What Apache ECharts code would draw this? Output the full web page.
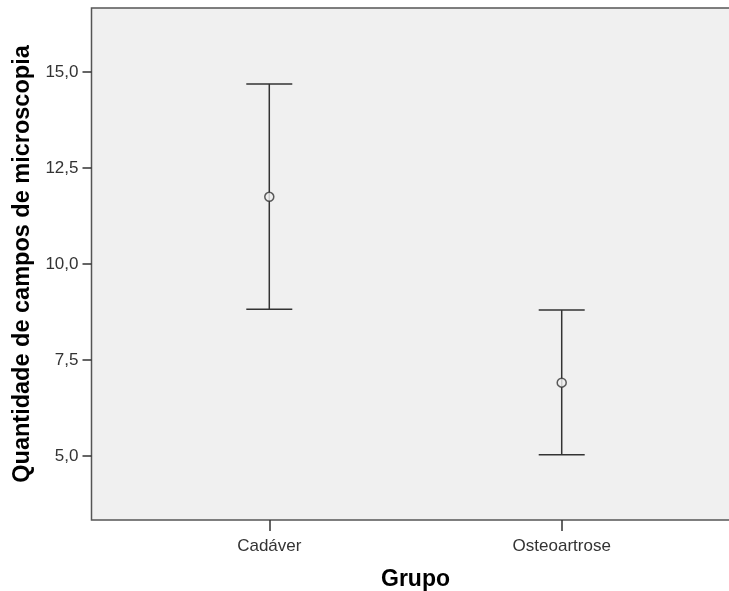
<!DOCTYPE html>
<html>
<head>
<meta charset="utf-8">
<script src="https://cdn.jsdelivr.net/npm/echarts@6/dist/echarts.min.js"></script>
<style>html,body{margin:0;padding:0;background:#fff}#c{width:729px;height:591px}</style>
</head>
<body>
<div id="c"></div>
<script>
// Data
var categories = ['Cadáver', 'Osteoartrose'];
var means = [11.75, 6.91];
var lower = [8.82, 5.03];
var upper = [14.69, 8.80];
var yTicks = [5, 7.5, 10, 12.5, 15];
var xTitle = 'Grupo';
var yTitle = 'Quantidade de campos de microscopia';

var catIdx = categories.map(function (c, i) { return i; });
var barData = catIdx.map(function (i) { return [i, lower[i], upper[i]]; });
var meanData = catIdx.map(function (i) { return [i, means[i]]; });

var chart = echarts.init(document.getElementById('c'), null, { renderer: 'canvas' });
var font = 'Liberation Sans, Arial, sans-serif';
chart.setOption({
  animation: false,
  grid: {
    left: 91.5, top: 8, width: 648, height: 512,
    containLabel: false, outerBoundsMode: 'none',
    show: true, backgroundColor: '#f0f0f0', borderColor: '#555', borderWidth: 1.5
  },
  xAxis: {
    type: 'value', min: -0.608, max: 1.608,
    name: xTitle, nameLocation: 'middle', nameGap: 48,
    nameTextStyle: { fontFamily: font, fontSize: 23, fontWeight: 'bold', color: '#000' },
    axisLine: { show: false, onZero: false },
    splitLine: { show: false },
    axisTick: { show: true, customValues: catIdx, length: 11, lineStyle: { color: '#333', width: 1.5 } },
    axisLabel: {
      customValues: catIdx, margin: 18, fontFamily: font, fontSize: 17, color: '#333',
      formatter: function (v) { return categories[Math.round(v)] || ''; }
    }
  },
  yAxis: {
    type: 'value', min: 3.333, max: 16.667,
    name: yTitle, nameLocation: 'middle', nameGap: 56, nameRotate: 90,
    nameTextStyle: { fontFamily: font, fontSize: 23.5, fontWeight: 'bold', color: '#000' },
    axisLine: { show: false, onZero: false },
    splitLine: { show: false },
    axisTick: { show: true, customValues: yTicks, length: 9, lineStyle: { color: '#333', width: 1.5 } },
    axisLabel: {
      customValues: yTicks, margin: 13, fontFamily: font, fontSize: 17, color: '#333',
      formatter: function (v) { return v.toFixed(1).replace('.', ','); }
    }
  },
  series: [
    {
      type: 'custom',
      data: barData,
      renderItem: function (params, api) {
        var x = api.value(0);
        var lo = api.coord([x, api.value(1)]);
        var hi = api.coord([x, api.value(2)]);
        var hw = 23;
        var style = { stroke: '#333', lineWidth: 1.5 };
        return {
          type: 'group',
          children: [
            { type: 'line', shape: { x1: lo[0], y1: lo[1], x2: hi[0], y2: hi[1] }, style: style },
            { type: 'line', shape: { x1: lo[0] - hw, y1: lo[1], x2: lo[0] + hw, y2: lo[1] }, style: style },
            { type: 'line', shape: { x1: hi[0] - hw, y1: hi[1], x2: hi[0] + hw, y2: hi[1] }, style: style }
          ]
        };
      }
    },
    {
      type: 'scatter',
      data: meanData,
      symbol: 'circle',
      symbolSize: 9,
      itemStyle: { color: '#f0f0f0', borderColor: '#333', borderWidth: 1.5 },
      z: 5
    }
  ]
});
</script>
</body>
</html>
